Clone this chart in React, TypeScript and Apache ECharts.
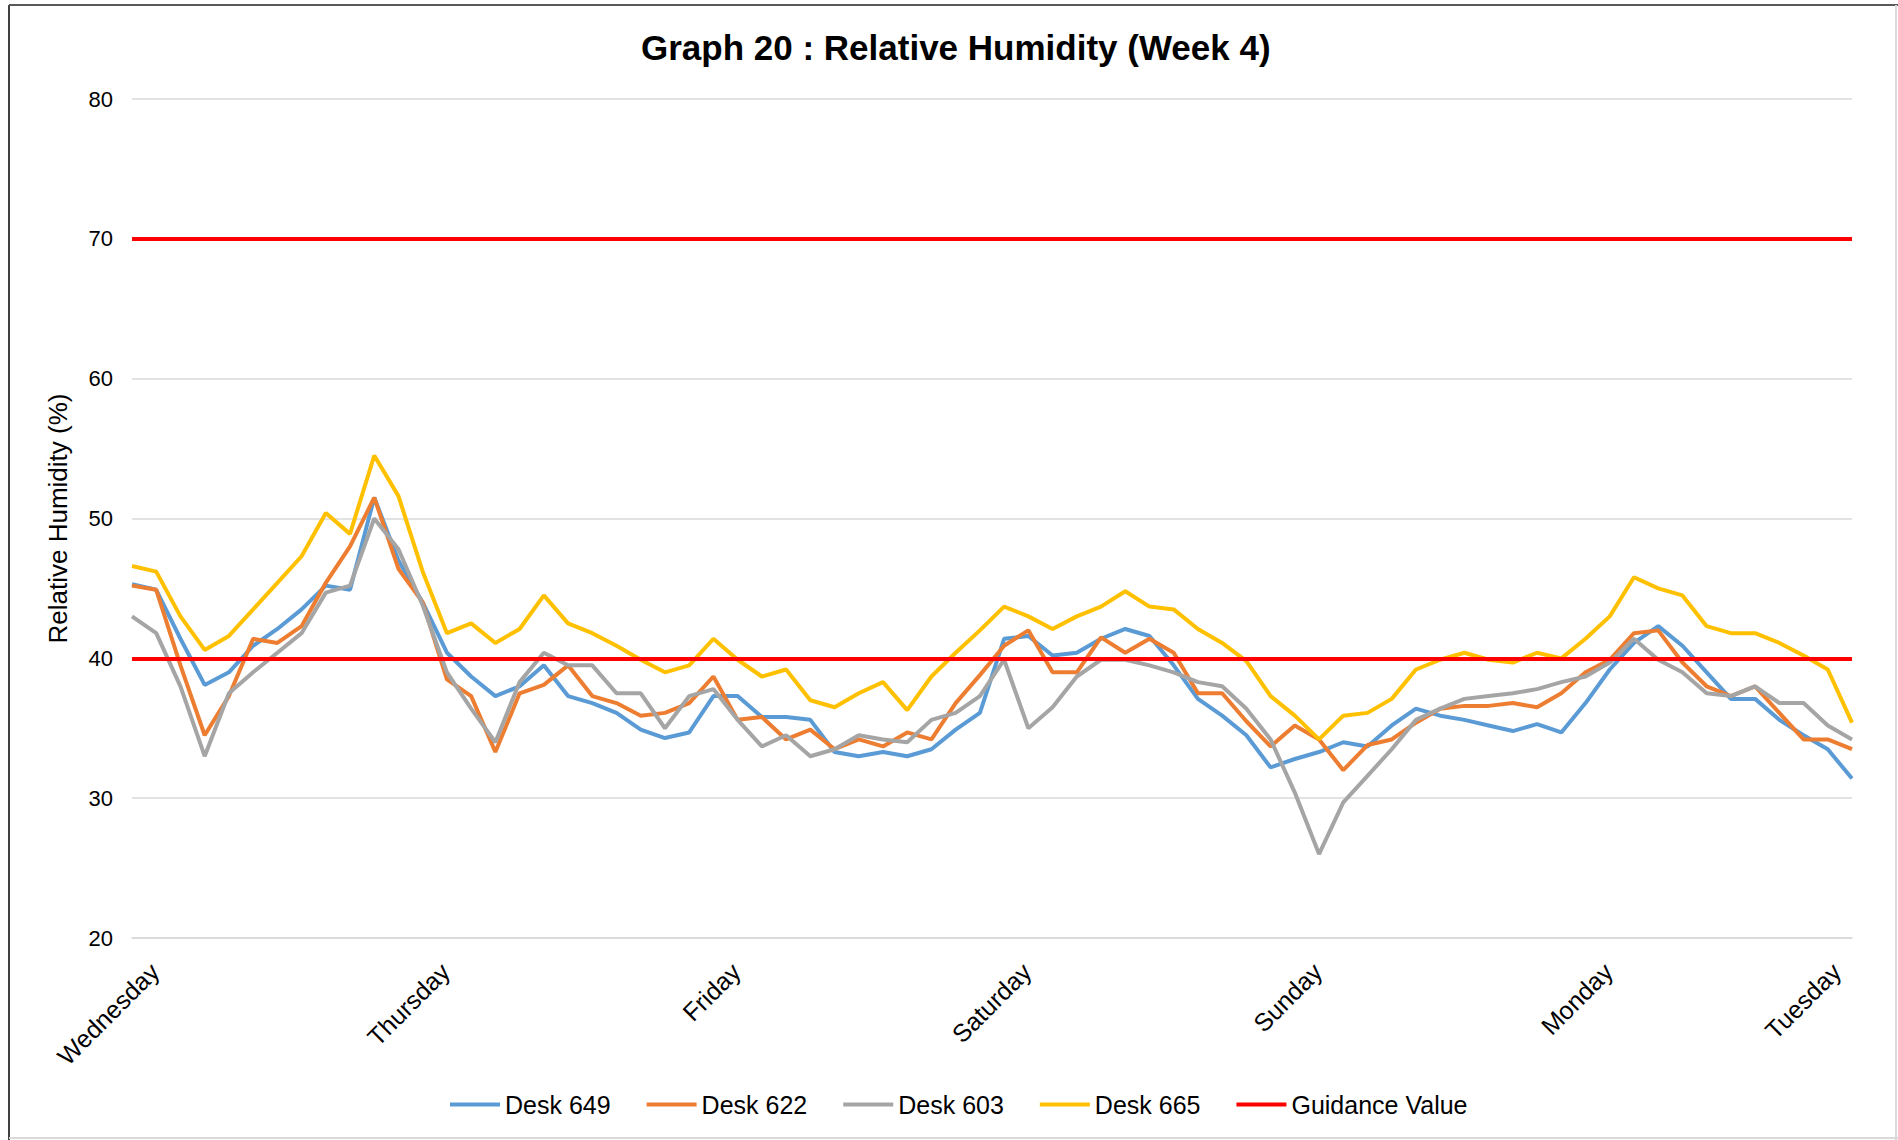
import React, { useEffect, useRef } from "react";
import * as echarts from "echarts";

// Day labels and the sample index (2-hour steps) where each label sits
const DAYS = ["Wednesday", "Thursday", "Friday", "Saturday", "Sunday", "Monday", "Tuesday"];
const DAY_POSITIONS = [0, 12, 24, 36, 48, 60, 71];

// Relative humidity (%) readings, one value every 2 hours
const DESK_649 = [
  45.3, 44.9, 41.4, 38.1, 39.0, 40.9, 42.1, 43.5, 45.2, 44.9, 51.5, 47.0,
  44.0, 40.4, 38.7, 37.3, 38.0, 39.5, 37.3, 36.8, 36.1, 34.9, 34.3, 34.7,
  37.3, 37.3, 35.8, 35.8, 35.6, 33.3, 33.0, 33.3, 33.0, 33.5, 34.9, 36.1,
  41.4, 41.6, 40.2, 40.4, 41.4, 42.1, 41.6, 39.5, 37.1, 35.9, 34.5, 32.2,
  32.8, 33.3, 34.0, 33.7, 35.2, 36.4, 35.9, 35.6, 35.2, 34.8, 35.3, 34.7,
  36.8, 39.2, 41.1, 42.3, 40.9, 39.0, 37.1, 37.1, 35.6, 34.5, 33.5, 31.4,
];
const DESK_622 = [
  45.2, 44.9, 39.5, 34.5, 37.3, 41.4, 41.1, 42.3, 45.4, 48.0, 51.5, 46.4,
  44.0, 38.5, 37.3, 33.3, 37.5, 38.1, 39.5, 37.3, 36.8, 35.9, 36.1, 36.8,
  38.7, 35.6, 35.8, 34.2, 34.9, 33.5, 34.2, 33.7, 34.7, 34.2, 36.8, 38.8,
  40.9, 42.0, 39.0, 39.0, 41.5, 40.4, 41.4, 40.4, 37.5, 37.5, 35.5, 33.7,
  35.2, 34.2, 32.0, 33.8, 34.2, 35.4, 36.4, 36.6, 36.6, 36.8, 36.5, 37.5,
  39.0, 39.9, 41.8, 42.0, 39.7, 38.0, 37.3, 38.0, 36.1, 34.2, 34.2, 33.5,
];
const DESK_603 = [
  43.0, 41.8, 38.0, 33.0, 37.5, 39.0, 40.4, 41.8, 44.7, 45.2, 50.0, 47.8,
  43.8, 39.0, 36.4, 34.0, 38.3, 40.4, 39.5, 39.5, 37.5, 37.5, 35.0, 37.3,
  37.8, 35.6, 33.7, 34.5, 33.0, 33.5, 34.5, 34.2, 34.0, 35.6, 36.1, 37.3,
  39.9, 35.0, 36.5, 38.7, 39.9, 39.9, 39.5, 39.0, 38.3, 38.0, 36.4, 34.2,
  30.4, 26.0, 29.7, 31.6, 33.5, 35.6, 36.4, 37.1, 37.3, 37.5, 37.8, 38.3,
  38.7, 39.7, 41.4, 39.9, 39.0, 37.5, 37.3, 38.0, 36.8, 36.8, 35.2, 34.2,
];
const DESK_665 = [
  46.6, 46.2, 43.0, 40.6, 41.6, 43.5, 45.4, 47.3, 50.4, 48.9, 54.5, 51.6,
  46.2, 41.8, 42.5, 41.1, 42.1, 44.5, 42.5, 41.8, 40.9, 39.9, 39.0, 39.5,
  41.4, 39.9, 38.7, 39.2, 37.0, 36.5, 37.5, 38.3, 36.3, 38.7, 40.4, 42.0,
  43.7, 43.0, 42.1, 43.0, 43.7, 44.8, 43.7, 43.5, 42.1, 41.1, 39.8, 37.3,
  35.9, 34.2, 35.9, 36.1, 37.1, 39.2, 39.9, 40.4, 39.9, 39.7, 40.4, 40.0,
  41.4, 43.0, 45.8, 45.0, 44.5, 42.3, 41.8, 41.8, 41.1, 40.2, 39.2, 35.4,
];
const GUIDANCE_VALUES = [40, 70];

const Y_MIN = 20;
const Y_MAX = 80;
const Y_INTERVAL = 10;

const FONT = "'Liberation Sans', Arial, sans-serif";

export default function App() {
  const ref = useRef<HTMLDivElement>(null);

  useEffect(() => {
    if (!ref.current) return;
    const chart = echarts.init(ref.current, undefined, { renderer: "svg" });

    const categories = DESK_649.map((_, i) => {
      const day = DAYS[Math.min(Math.floor(i / 12), DAYS.length - 1)];
      const hour = String((i % 12) * 2).padStart(2, "0");
      return `${day} ${hour}:00`;
    });

    const deskSeries = [
      { name: "Desk 649", data: DESK_649, color: "#5B9BD5" },
      { name: "Desk 622", data: DESK_622, color: "#ED7D31" },
      { name: "Desk 603", data: DESK_603, color: "#A5A5A5" },
      { name: "Desk 665", data: DESK_665, color: "#FFC000" },
    ].map((s) => ({
      name: s.name,
      type: "line",
      data: s.data,
      showSymbol: false,
      symbol: "none",
      color: s.color,
      lineStyle: { color: s.color, width: 4 },
      emphasis: { disabled: true },
    }));

    const labelStyle = { fontSize: 25, color: "#000", fontFamily: FONT };

    chart.setOption({
      animation: false,
      backgroundColor: "#ffffff",
      textStyle: { fontFamily: FONT },
      title: {
        text: "Graph 20 : Relative Humidity (Week 4)",
        left: 641,
        top: 30,
        padding: 0,
        textStyle: { fontSize: 35, fontWeight: "bold", color: "#000", fontFamily: FONT },
      },
      grid: { left: 132, right: 46, top: 99, bottom: 202, containLabel: false },
      legend: {
        bottom: 23,
        left: 450,
        padding: 0,
        icon: "rect",
        itemWidth: 50,
        itemHeight: 4,
        itemGap: 36,
        textStyle: { fontSize: 25, color: "#000", fontFamily: FONT },
        data: ["Desk 649", "Desk 622", "Desk 603", "Desk 665", "Guidance Value"],
      },
      xAxis: {
        type: "category",
        boundaryGap: false,
        data: categories,
        axisLine: { show: true, lineStyle: { color: "#D9D9D9", width: 1.5 } },
        axisTick: { show: false },
        splitLine: { show: false },
        axisLabel: {
          interval: (index: number) => DAY_POSITIONS.includes(index),
          formatter: (_v: string, index: number) => {
            const k = DAY_POSITIONS.indexOf(index);
            if (k < 0) return "";
            return k === DAYS.length - 1 ? `{last|${DAYS[k]}}` : `{day|${DAYS[k]}}`;
          },
          rotate: 45,
          margin: 52,
          fontSize: 25,
          color: "#000",
          fontFamily: FONT,
          rich: {
            day: { ...labelStyle, padding: [0, -32, 0, 0] },
            last: { ...labelStyle, padding: [0, -5, 54, 0] },
          },
        },
      },
      yAxis: {
        type: "value",
        min: Y_MIN,
        max: Y_MAX,
        interval: Y_INTERVAL,
        name: "Relative Humidity (%)",
        nameLocation: "middle",
        nameGap: 61,
        nameTextStyle: { fontSize: 26, color: "#000", fontFamily: FONT },
        axisLine: { show: false },
        axisTick: { show: false },
        axisLabel: { fontSize: 22, color: "#000", margin: 19, fontFamily: FONT },
        splitLine: { show: true, lineStyle: { color: "#D9D9D9", width: 1.5 } },
      },
      graphic: [
        { type: "line", shape: { x1: 9, y1: 5, x2: 9, y2: 1140 }, style: { stroke: "#404040", lineWidth: 2 } },
        { type: "line", shape: { x1: 9, y1: 5, x2: 1898, y2: 5 }, style: { stroke: "#595959", lineWidth: 2 } },
        { type: "line", shape: { x1: 1896, y1: 5, x2: 1896, y2: 1140 }, style: { stroke: "#D9D9D9", lineWidth: 2 } },
        { type: "line", shape: { x1: 9, y1: 1138, x2: 1898, y2: 1138 }, style: { stroke: "#D9D9D9", lineWidth: 2 } },
      ],
      series: [
        ...deskSeries,
        {
          name: "Guidance Value",
          type: "line",
          data: [],
          color: "#FF0000",
          lineStyle: { color: "#FF0000", width: 4 },
          showSymbol: false,
          symbol: "none",
          markLine: {
            silent: true,
            symbol: ["none", "none"],
            label: { show: false },
            lineStyle: { color: "#FF0000", width: 4, type: "solid" },
            data: GUIDANCE_VALUES.map((v) => ({ yAxis: v })),
          },
        },
      ],
    });

    return () => chart.dispose();
  }, []);

  return (
    <div
      ref={ref}
      style={{ position: "fixed", left: 0, top: 0, width: 1898, height: 1140, background: "#fff" }}
    />
  );
}
